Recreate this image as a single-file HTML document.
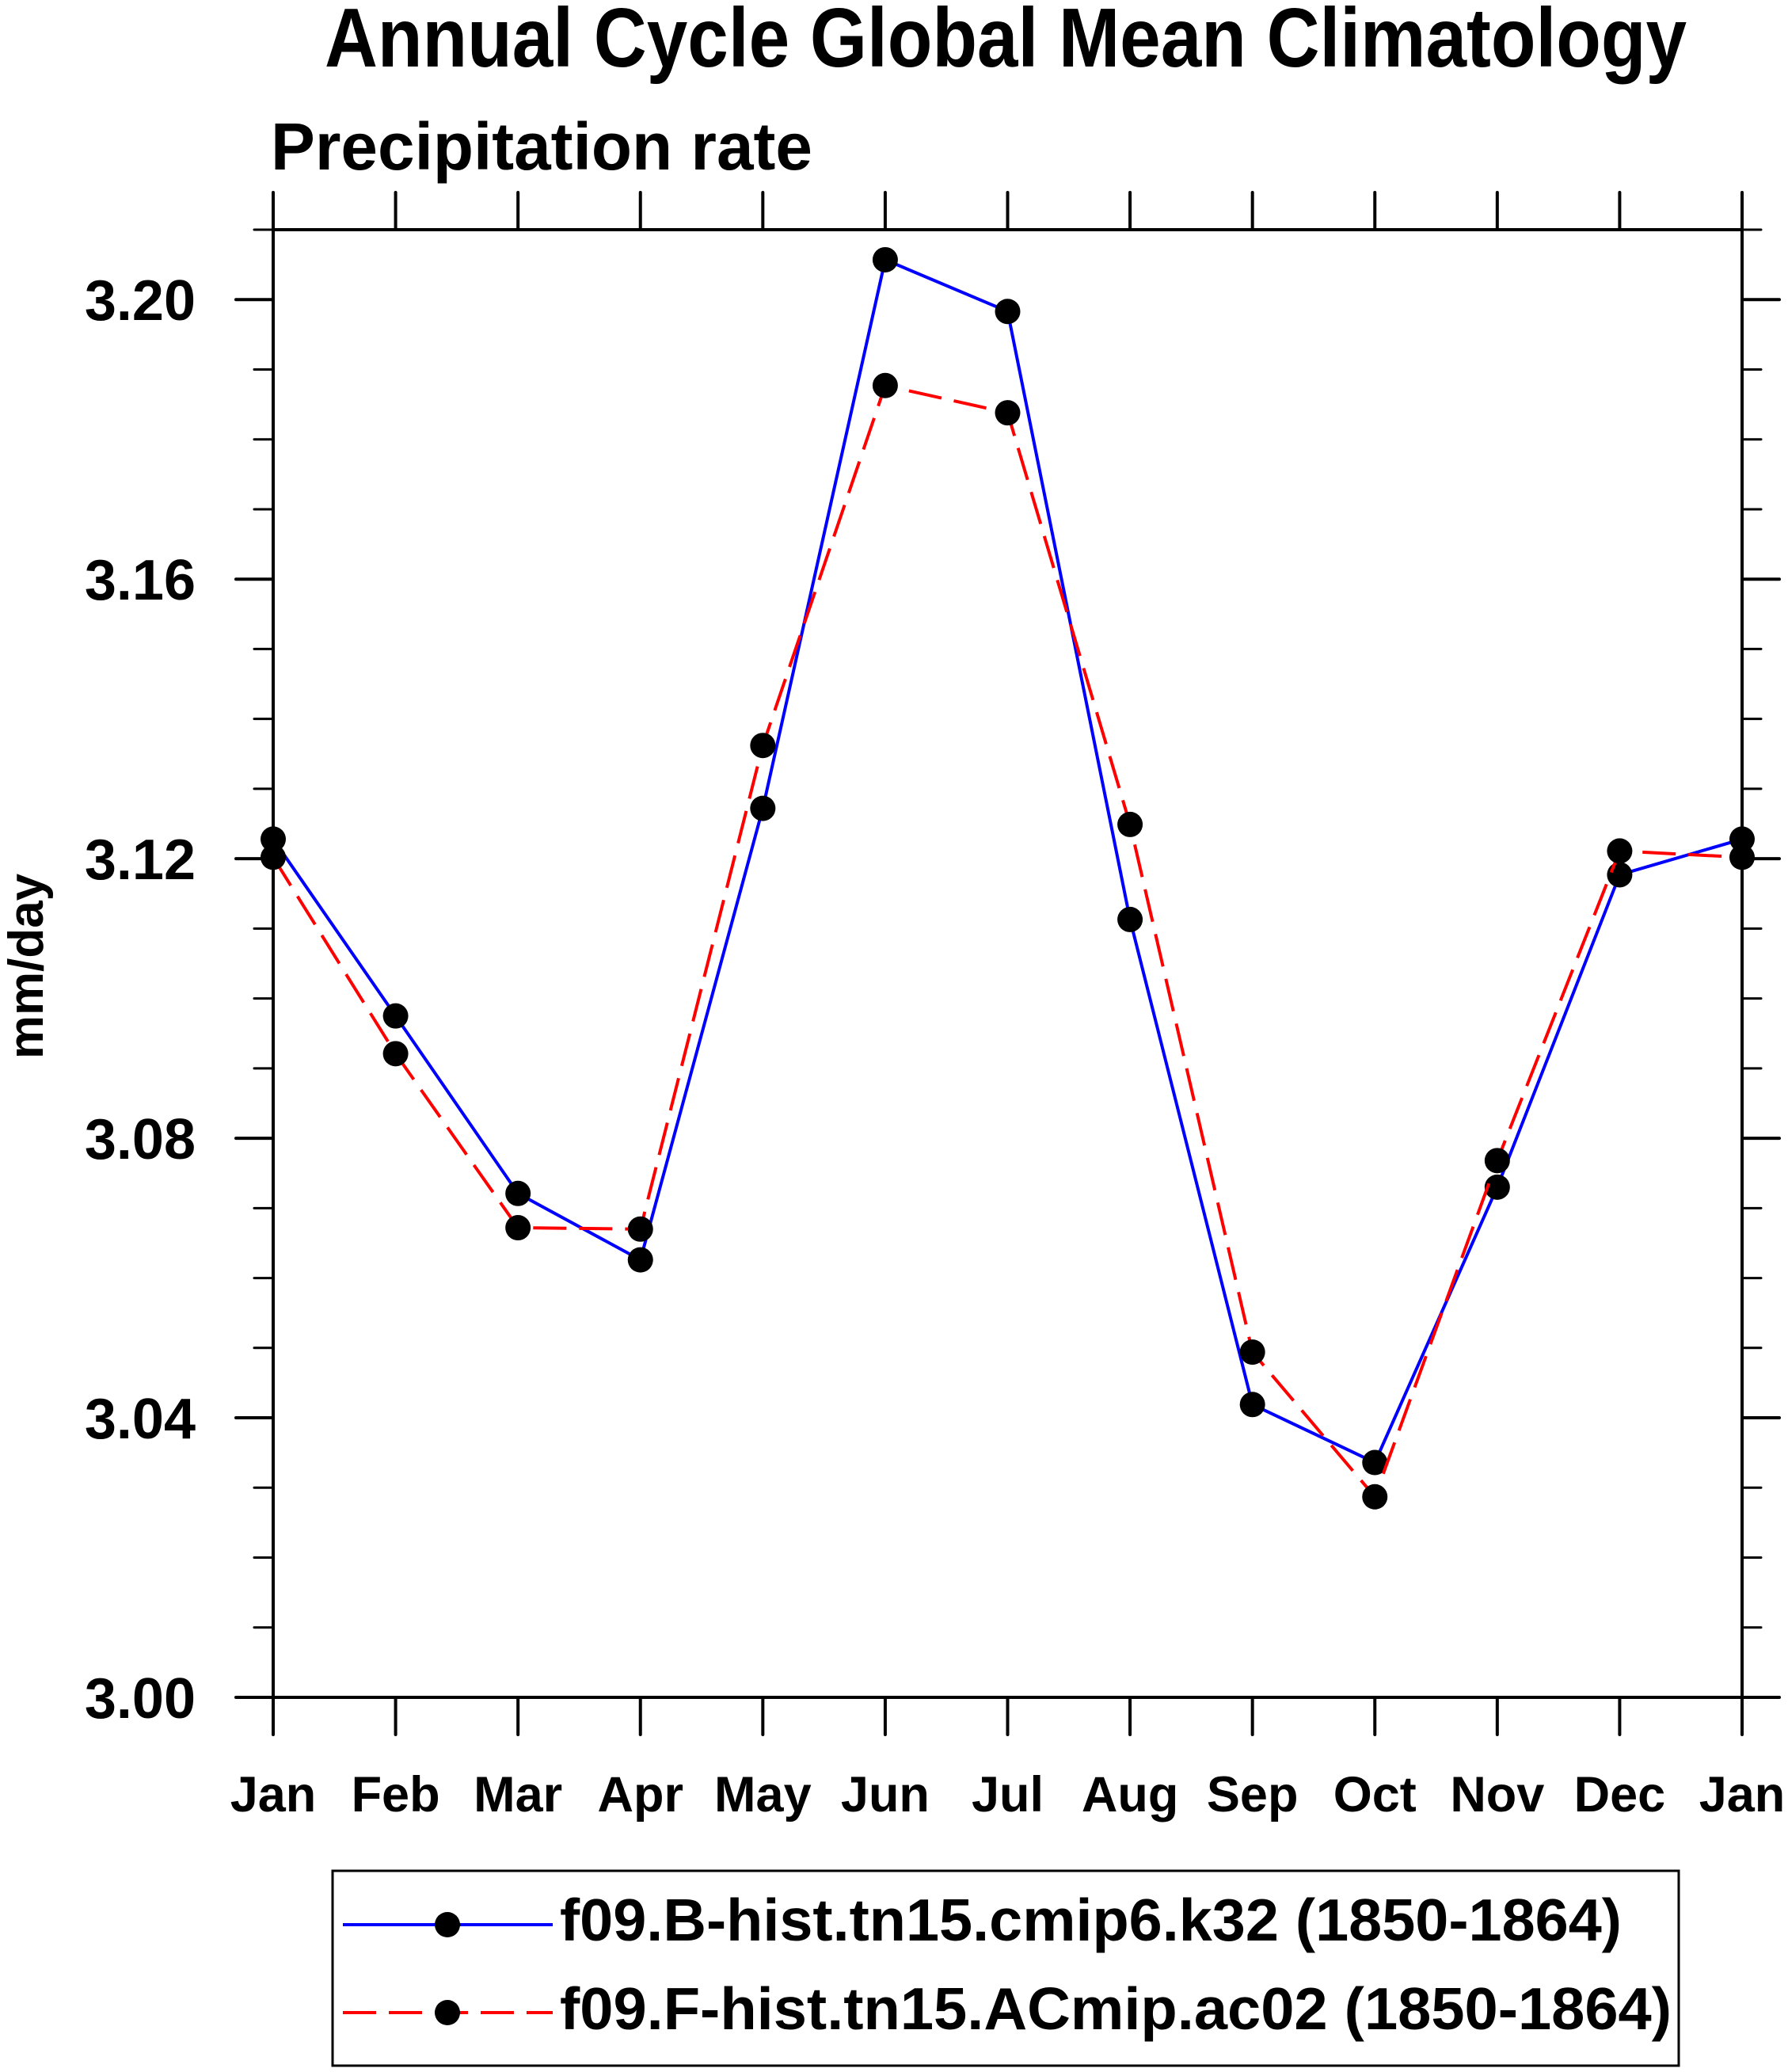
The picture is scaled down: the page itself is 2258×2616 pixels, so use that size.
<!DOCTYPE html>
<html><head><meta charset="utf-8"><style>
html,body{margin:0;padding:0;background:#fff;}
svg{display:block;}
text{font-family:"Liberation Sans",Arial,sans-serif;font-weight:bold;fill:#000;}
</style></head><body>
<svg id="chart" width="2258" height="2616" viewBox="0 0 2258 2616" xmlns="http://www.w3.org/2000/svg">
<text x="1270" y="84" font-size="106" text-anchor="middle" textLength="1720" lengthAdjust="spacingAndGlyphs">Annual Cycle Global Mean Climatology</text>
<text x="342" y="214" font-size="84" textLength="684" lengthAdjust="spacingAndGlyphs">Precipitation rate</text>
<text x="0" y="0" font-size="62" text-anchor="middle" transform="translate(54,1220) rotate(-90)">mm/day</text>
<g id="axes"></g>
<g id="series"></g>
<g id="legend">
<rect x="420" y="2362" width="1700" height="246" fill="none" stroke="#000" stroke-width="3"/>
<g>
<line x1="433" y1="2430" x2="698" y2="2430" stroke="#0000ff" stroke-width="4"/>
<circle cx="565" cy="2430" r="16" fill="#000"/>
<text x="707" y="2450" font-size="75" textLength="1341" lengthAdjust="spacingAndGlyphs">f09.B-hist.tn15.cmip6.k32 (1850-1864)</text>
</g>
<g>
<line x1="433" y1="2541" x2="698" y2="2541" stroke="#ff0000" stroke-width="4" stroke-dasharray="42,16"/>
<circle cx="565" cy="2541" r="16" fill="#000"/>
<text x="707" y="2562" font-size="75" textLength="1404" lengthAdjust="spacingAndGlyphs">f09.F-hist.tn15.ACmip.ac02 (1850-1864)</text>
</g>
</g>
</svg>
<script>
const months = ["Jan","Feb","Mar","Apr","May","Jun","Jul","Aug","Sep","Oct","Nov","Dec","Jan"];
const bHist = [3.1228,3.0975,3.0721,3.0626,3.1272,3.2057,3.1983,3.1113,3.0419,3.0336,3.0730,3.1177,3.1228];
const fHist = [3.1202,3.0921,3.0672,3.0670,3.1362,3.1877,3.1838,3.1249,3.0494,3.0287,3.0768,3.1211,3.1202];
const yTickLabels = ["3.00","3.04","3.08","3.12","3.16","3.20"];
const yMin = 3.00, yMax = 3.21;

const L=345, R=2200, T=290, B=2143;
const NS="http://www.w3.org/2000/svg";
function xs(i){return L + i*(R-L)/(months.length-1);}
function ys(v){return B - (v-yMin)/(yMax-yMin)*(B-T);}
function mk(tag, attrs, parent){const e=document.createElementNS(NS,tag);for(const k in attrs)e.setAttribute(k,attrs[k]);parent.appendChild(e);return e;}

const axes=document.getElementById('axes');
const frame=mk('rect',{x:L,y:T,width:R-L,height:B-T,fill:'none',stroke:'#000','stroke-width':4},axes);


months.forEach((m,i)=>{
  const x=xs(i);
  const tb=mk('line',{x1:x,y1:B,x2:x,y2:B+47,stroke:'#000','stroke-width':4,'stroke-linecap':'round'},axes);
  
  
  const tt=mk('line',{x1:x,y1:T,x2:x,y2:T-47,stroke:'#000','stroke-width':4,'stroke-linecap':'round'},axes);
  
  
  const lb=mk('text',{x:x,y:2287,'font-size':63,'text-anchor':'middle'},axes);
  lb.textContent=m;
  
  
});
for(let k=0;k<=21;k++){
  const v=yMin+k*0.01;
  const y=ys(v);
  const major=(k%4===0);
  const len=major?47:24;
  const a=mk('line',{x1:L,y1:y,x2:L-len,y2:y,stroke:'#000','stroke-width':major?4:3,'stroke-linecap':'round'},axes);
  
  
  const b=mk('line',{x1:R,y1:y,x2:R+len,y2:y,stroke:'#000','stroke-width':major?4:3,'stroke-linecap':'round'},axes);
  
  
}
yTickLabels.forEach(s=>{
  const t=mk('text',{x:247,y:ys(parseFloat(s))+26,'font-size':72,'text-anchor':'end'},axes);
  t.textContent=s;
  
  
});

const series=document.getElementById('series');
function drawSeries(vals,color,dash,name){
  const g=mk('g',{},series);
  
  
  const pts=vals.map((v,i)=>xs(i)+','+ys(v)).join(' ');
  const attrs={points:pts,fill:'none',stroke:color,'stroke-width':4,'stroke-linejoin':'round'};
  if(dash)attrs['stroke-dasharray']=dash;
  const pl=mk('polyline',attrs,g);
  
  
  vals.forEach((v,i)=>{
    const c=mk('circle',{cx:xs(i),cy:ys(v),r:16,fill:'#000'},g);
    
    
  });
}
drawSeries(bHist,'#0000ff',null,'series-b-hist');
drawSeries(fHist,'#ff0000','42,16','series-f-hist');
</script>
</body></html>
